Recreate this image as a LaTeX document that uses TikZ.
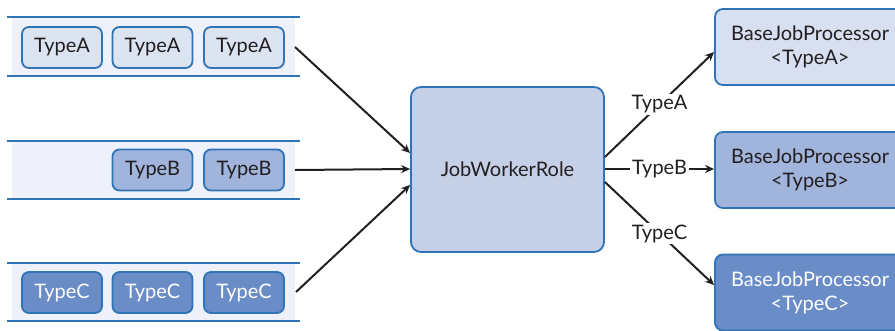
\documentclass[tikz,border=0pt]{standalone}
\usepackage{fontspec}
\setmainfont{Lato}
\usetikzlibrary{arrows.meta}
\definecolor{edge}{HTML}{2F74B5}
\definecolor{ink}{HTML}{231F20}
\definecolor{lane}{HTML}{EEF1F9}
\definecolor{fillA}{HTML}{DCE3F1}
\definecolor{fillB}{HTML}{A1B4DC}
\definecolor{fillC}{HTML}{6A8CC7}
\definecolor{fillW}{HTML}{C5D0E7}
\definecolor{fillPA}{HTML}{D7DFF0}
\tikzset{
  txt/.style={font=\fontsize{20}{24}\selectfont, text=ink},
  msg/.style={txt, draw=edge, line width=1.8pt, rounded corners=7pt, minimum width=80pt,
    minimum height=41pt, inner sep=0pt},
  proc/.style={txt, draw=edge, line width=1.8pt, rounded corners=8pt, minimum width=190pt,
    minimum height=76pt, inner sep=0pt, align=center},
  rail/.style={edge, line width=2.2pt},
  arr/.style={ink, line width=2pt, -{Stealth[length=9pt,width=8pt]}},
  lbl/.style={txt, fill=white, inner sep=2pt},
}
\begin{document}
\begin{tikzpicture}[x=1pt,y=-1pt]
\useasboundingbox (0,0) rectangle (895,330);
% queues
\foreach \t/\b in {17/76, 141/199, 263/321}{
  \fill[lane] (12,\t) rectangle (295,\b);
  \draw[rail] (7,\t) -- (300,\t);
  \draw[rail] (7,\b) -- (300,\b);
}
% messages
\node[msg, fill=fillA] (a1) at (62,47.5) {TypeA};
\node[msg, fill=fillA] (a2) at (152.5,47.5) {TypeA};
\node[msg, fill=fillA] (a3) at (244,47.5) {TypeA};
\node[msg, fill=fillB] (b1) at (152.5,170) {TypeB};
\node[msg, fill=fillB] (b2) at (244,170) {TypeB};
\node[msg, fill=fillC, text=white] (c1) at (62,292.5) {TypeC};
\node[msg, fill=fillC, text=white] (c2) at (152.5,292.5) {TypeC};
\node[msg, fill=fillC, text=white] (c3) at (244,292.5) {TypeC};
% worker
\node[txt, draw=edge, line width=1.8pt, rounded corners=10pt, fill=fillW, minimum width=193pt,
  minimum height=165pt, inner sep=0pt]
  (jwr) at (507.5,169.5) {JobWorkerRole};
% processors
\node[proc, fill=fillPA] (pa) at (810,47) {BaseJobProcessor\\<TypeA>};
\node[proc, fill=fillB] (pb) at (810,170) {BaseJobProcessor\\<TypeB>};
\node[proc, fill=fillC, text=white] (pc) at (810,292.5) {BaseJobProcessor\\<TypeC>};
% incoming
\coordinate (qa) at (295,47);
\coordinate (qb) at (295,170);
\coordinate (qc) at (296,292);
\draw[arr] (qa) -- (jwr.west |- 0,153);
\draw[arr] (qb) -- (jwr.west |- 0,169);
\draw[arr] (qc) -- (jwr.west |- 0,185);
% dispatch
\draw[arr] (jwr.east |- 0,157) -- node[lbl, pos=0.5]{TypeA} (pa.west |- 0,52);
\draw[arr] (jwr.east |- 0,169) -- node[lbl, pos=0.5]{TypeB} (pb.west |- 0,169);
\draw[arr] (jwr.east |- 0,182) -- node[lbl, pos=0.5]{TypeC} (pc.west |- 0,285);
\end{tikzpicture}
\end{document}
